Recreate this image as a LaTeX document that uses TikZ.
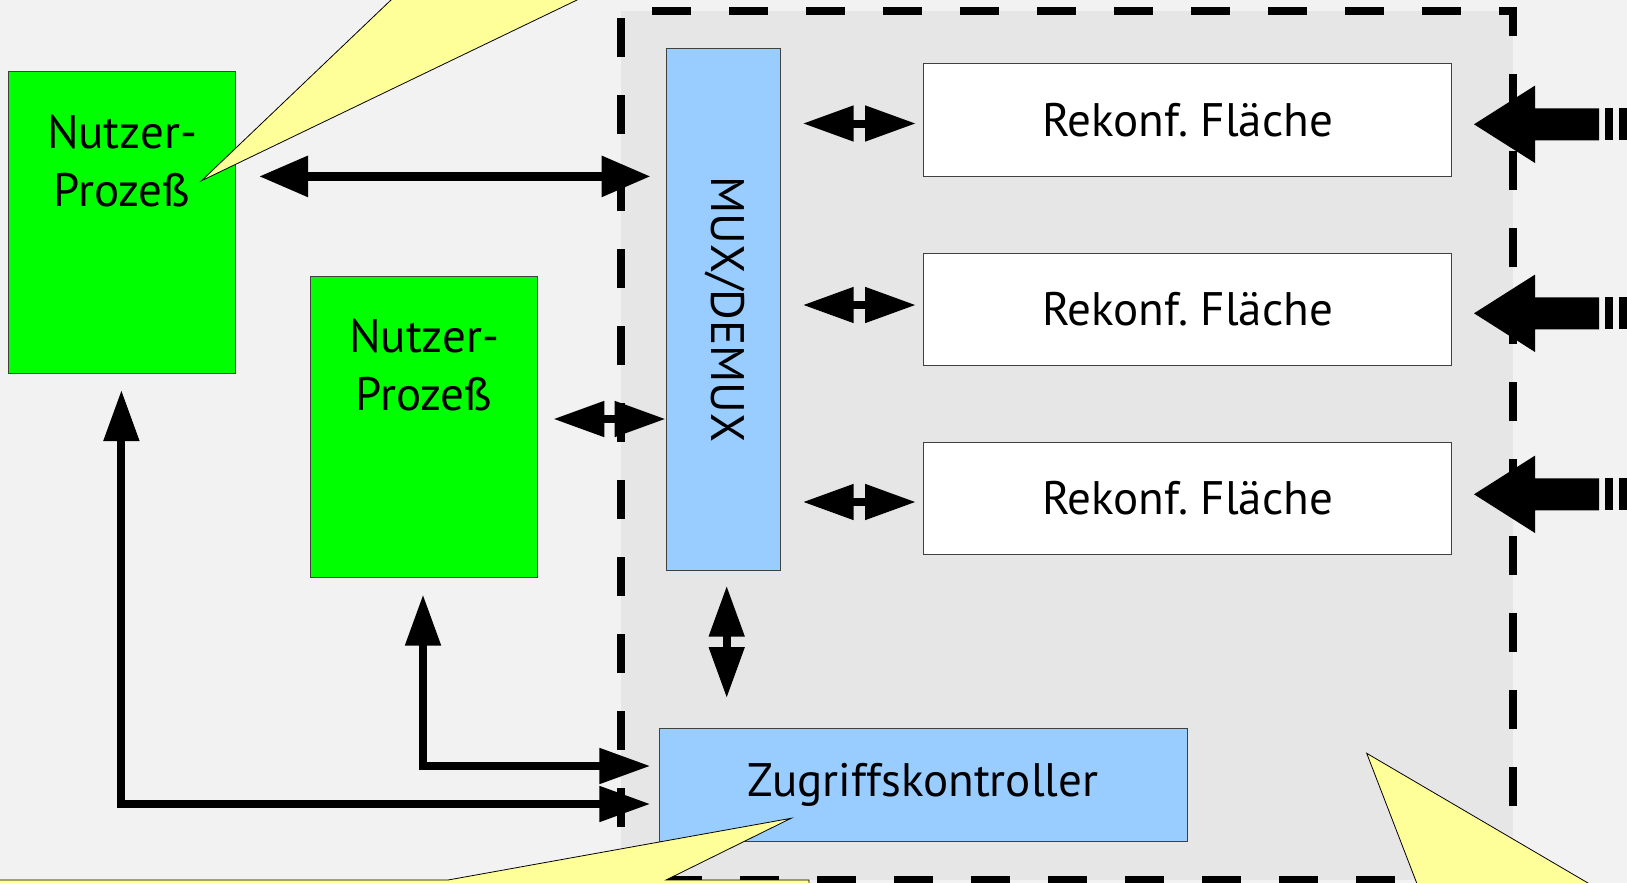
\documentclass[tikz,border=0pt]{standalone}
\usepackage{fontspec}
\setmainfont{PT Sans}
\usetikzlibrary{arrows.meta,calc}
\definecolor{bg}{HTML}{F2F2F2}
\definecolor{innergray}{HTML}{E6E6E6}
\definecolor{ngreen}{HTML}{00FF00}
\definecolor{lblue}{HTML}{99CCFF}
\definecolor{cyel}{HTML}{FFFF99}
\frenchspacing
\begin{document}
\begin{tikzpicture}[x=1pt,y=-1pt,
  box/.style={draw=black!75, line width=1pt, inner sep=0pt, outer sep=0pt},
  txt/.style={font=\fontsize{47}{58}\selectfont, inner sep=0pt, align=center},
  tipA/.tip={Triangle[length=51pt,width=34pt]},
  tipB/.tip={Triangle[length=49pt,width=39pt]},
  dbl/.style={line width=8pt, line join=miter, tipA-tipA},
  dblbig/.style={line width=9pt, tipB-tipB},
  callout/.style={fill=cyel, draw=black, line width=0.8pt, line join=miter}
]
\useasboundingbox (0,0) rectangle (1627,883);
\fill[bg] (0,0) rectangle (1627,883);
\clip (0,0) rectangle (1627,883);

% frame
\node[fill=innergray, inner sep=0pt, outer sep=0pt, minimum width=892pt, minimum height=869pt] (frame) at (1067,445.5) {};
\draw[line width=8pt, dash pattern=on 38.5pt off 38.5pt, dash phase=23.7pt]
  (frame.south west) -- (frame.north west) -- (frame.north east) -- (frame.south east) -- cycle;

% boxes
\node[box, fill=ngreen, minimum width=227pt, minimum height=302pt] (np1) at (122,222.5) {};
\node[txt, anchor=north] (np1t) at ($(np1.north)+(0,43.4)$) {Nutzer-\\Prozeß};
\node[box, fill=ngreen, minimum width=226.5pt, minimum height=301pt] (np2) at (424,426.5) {};
\node[txt, anchor=north] (np2t) at ($(np2.north)+(0,42.5)$) {Nutzer-\\Prozeß};
\node[box, fill=lblue, minimum width=114pt, minimum height=521pt] (mux) at (723,309.5) {};
\node[txt, rotate=-90] (muxt) at ($(mux.center)+(2,0)$) {MUX/DEMUX};
\node[box, fill=white, minimum width=528pt, minimum height=112pt, txt] (rk1) at (1187.5,120) {Rekonf. Fläche};
\node[box, fill=white, minimum width=528pt, minimum height=112pt, txt] (rk2) at (1187.5,309) {Rekonf. Fläche};
\node[box, fill=white, minimum width=528pt, minimum height=112pt, txt] (rk3) at (1187.5,498) {Rekonf. Fläche};
\node[box, fill=lblue, minimum width=528pt, minimum height=112.5pt, txt] (zk) at (923,785) {Zugriffskontroller};

% connectors
\draw[dblbig] ($(np1.east)+(23.5,-46.1)$) -- ($(np1.east -| mux.west)+(-15.4,-46.1)$);
\draw[dbl] ($(np2.east)+(16,-7.5)$) -- ($(np2.east -| mux.west)+(-0.3,-7.5)$);
\draw[dbl] ($(rk1.west -| mux.east)+(22.7,3.5)$) -- ($(rk1.west)+(-7.5,3.5)$);
\draw[dbl] ($(rk2.west -| mux.east)+(22.7,-4)$) -- ($(rk2.west)+(-7.5,-4)$);
\draw[dbl] ($(rk3.west -| mux.east)+(22.7,4)$) -- ($(rk3.west)+(-7.5,4)$);
\draw[dbl] ($(mux.south)+(3.7,15.7)$) -- ($(mux.south |- zk.north)+(3.7,-30.7)$);
\draw[dbl] ($(np2.south)+(-1,17.5)$) |- ($(zk.west)+(-8.6,-19)$);
\draw[dbl] ($(np1.south)+(-0.6,16.5)$) |- ($(zk.west)+(-8.6,19)$);

% big incoming arrows on the right
\foreach \c in {124.3,313.3,494.3}{
  \fill (1474,\c) -- (1535,\c-38.7) -- (1535,\c-16) -- (1599,\c-16) -- (1599,\c+16)
        -- (1535,\c+16) -- (1535,\c+38.7) -- cycle;
  \fill (1605,\c-16) rectangle (1613.3,\c+16);
  \fill (1619,\c-16) rectangle (1640,\c+16);
}

% callouts
\draw[callout] (201.6,180.7) -- (432.9,-40) -- (660.1,-40) -- cycle;
\draw[callout] (-20,880) -- (448,880) -- (791,818.3) -- (666,880) -- (809,880) -- (809,920) -- (-20,920) -- cycle;
\draw[callout] (1366.7,753.3) -- (1434.8,930) -- (1668.1,930) -- cycle;
\end{tikzpicture}
\end{document}
